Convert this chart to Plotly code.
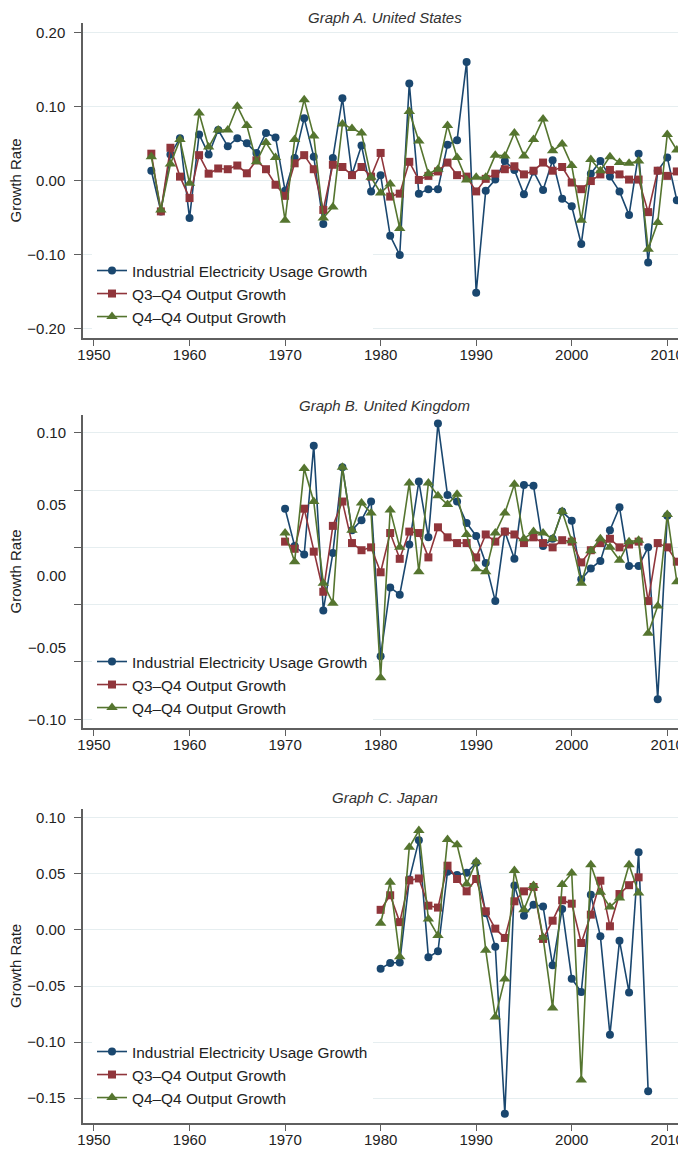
import plotly.graph_objects as go

# ---------------- data ----------------
us_years = list(range(1956, 2012))
us_elec = [0.013, -0.042, 0.035, 0.057, -0.051, 0.062, 0.035, 0.068, 0.046, 0.057,
           0.050, 0.037, 0.064, 0.058, -0.014, 0.030, 0.084, 0.032, -0.059, 0.030,
           0.111, 0.008, 0.047, -0.015, 0.007, -0.075, -0.101, 0.131, -0.018, -0.012,
           -0.012, 0.048, 0.054, 0.160, -0.152, -0.014, 0.001, 0.026, 0.014, -0.019,
           0.012, -0.013, 0.027, -0.025, -0.035, -0.086, 0.009, 0.026, 0.005, -0.015,
           -0.047, 0.036, -0.111, 0.013, 0.031, -0.027]
us_q3q4 = [0.036, -0.042, 0.044, 0.005, -0.024, 0.034, 0.009, 0.016, 0.015, 0.020,
           0.0095, 0.027, 0.015, -0.006, -0.021, 0.023, 0.034, 0.015, -0.040, 0.021,
           0.018, 0.007, 0.018, 0.005, 0.037, -0.022, -0.018, 0.025, 0.0005, 0.006,
           0.012, 0.024, 0.007, 0.005, -0.015, 0.002, 0.009, 0.015, 0.019, 0.008,
           0.013, 0.024, 0.013, 0.018, -0.003, -0.012, -0.001, 0.008, 0.014, 0.008,
           0.001, 0.001, -0.043, 0.013, 0.006, 0.012]
us_q4q4 = [0.032, -0.040, 0.022, 0.055, -0.004, 0.091, 0.045, 0.068, 0.068, 0.100,
           0.074, 0.025, 0.051, 0.031, -0.054, 0.055, 0.109, 0.060, -0.051, -0.036,
           0.076, 0.070, 0.064, 0.004, -0.017, -0.005, -0.065, 0.093, 0.053, 0.009,
           0.015, 0.074, 0.031, 0.0005, 0.004, 0.004, 0.034, 0.033, 0.064, 0.033,
           0.055, 0.083, 0.040, 0.049, 0.020, -0.054, 0.028, 0.013, 0.032, 0.024,
           0.023, 0.026, -0.093, -0.057, 0.062, 0.041]

uk_years = list(range(1970, 2012))
uk_elec = [0.047, 0.021, 0.015, 0.091, -0.024, 0.016, 0.076, 0.032, 0.039, 0.052,
           -0.056, -0.008, -0.013, 0.022, 0.066, 0.027, 0.1065, 0.0565, 0.052, 0.037,
           0.028, 0.009, -0.0175, 0.031, 0.012, 0.0635, 0.063, 0.021, 0.026, 0.045,
           0.0386, -0.0023, 0.0053, 0.0105, 0.032, 0.048, 0.007, 0.007, 0.020, -0.086,
           0.042, None]
uk_q3q4 = [0.024, 0.019, 0.047, 0.017, -0.011, 0.035, 0.052, 0.023, 0.018, 0.020,
           0.0026, 0.030, 0.012, 0.031, 0.030, 0.013, 0.034, 0.027, 0.023, 0.023,
           0.013, 0.029, 0.024, 0.031, 0.029, 0.023, 0.027, 0.023, 0.020, 0.025,
           0.024, 0.0095, 0.018, 0.023, 0.026, 0.020, 0.022, 0.024, -0.0175, 0.023,
           0.020, 0.010]
uk_q4q4 = [0.030, 0.010, 0.075, 0.052, -0.005, -0.019, 0.076, 0.032, 0.051, 0.044,
           -0.071, 0.046, 0.020, 0.065, 0.003, 0.065, 0.056, 0.050, 0.057, 0.029,
           0.005, 0.003, 0.030, 0.044, 0.064, 0.026, 0.031, 0.030, 0.026, 0.045,
           0.0247, -0.005, 0.0177, 0.026, 0.020, 0.011, 0.024, 0.025, -0.040, -0.021,
           0.043, -0.004]

jp_years = list(range(1980, 2009))
jp_elec = [-0.0345, -0.0295, -0.029, 0.045, 0.080, -0.0244, -0.019, 0.052, 0.049, 0.051,
           0.060, 0.015, -0.015, -0.164, 0.0396, 0.0128, 0.0226, 0.021, -0.0315, 0.0188,
           -0.0435, -0.0554, 0.0315, -0.0057, -0.0935, -0.0095, -0.0557, 0.0693, -0.144]
jp_q3q4 = [0.018, 0.031, 0.007, 0.0443, 0.046, 0.0217, 0.020, 0.0574, 0.0455, 0.0345,
           0.0455, 0.0167, 0.0012, -0.0071, 0.0256, 0.0345, 0.0384, -0.008, 0.0083, 0.0265,
           0.0235, -0.0116, 0.0137, 0.044, 0.0033, 0.0321, 0.040, 0.047, None]
jp_q4q4 = [0.006, 0.0426, -0.024, 0.0738, 0.0887, 0.0098, -0.005, 0.0807, 0.076, 0.041,
           0.061, -0.018, -0.0777, -0.0437, 0.053, 0.018, 0.0396, -0.0065, -0.0696, 0.0405,
           0.0509, -0.134, 0.0583, 0.0336, 0.0205, 0.0286, 0.0583, 0.033, None]

series_names = ["Industrial Electricity Usage Growth", "Q3\u2013Q4 Output Growth", "Q4\u2013Q4 Output Growth"]
panel_titles = ["Graph A. United States", "Graph B. United Kingdom", "Graph C. Japan"]
x_ticks = [1950, 1960, 1970, 1980, 1990, 2000, 2010]
a_ticks = [-0.20, -0.10, 0.00, 0.10, 0.20]
b_grid = [-0.10, -0.06, -0.02, 0.02, 0.06, 0.10]
b_labels = [-0.10, -0.05, 0.00, 0.05, 0.10]
c_ticks = [-0.15, -0.10, -0.05, 0.00, 0.05, 0.10]

# ---------------- styling ----------------
OFF = 8                      # page body margin
W, H = 686 - OFF, 1152 - OFF
FONT = "Liberation Sans, Arial, sans-serif"
COLORS = ["#1A476F", "#90353B", "#55752F"]
SYMBOLS = ["circle", "square", "triangle-up"]
MSIZE = [8, 8, 10]
AXC = "#5f5f5f"
GRIDC = "#e6eef0"
TXT = "#222222"

def fmt(v):
    s = f"{abs(v):.2f}"
    return ("\u2212" + s) if v < 0 else s

def px(x):
    return (x - OFF) / W

def py(y):
    return 1 - (y - OFF) / H

x_dom = [px(83), 1.0]
y_doms = [[py(338), py(23)], [py(728), py(415)], [py(1123), py(809)]]
y_ranges = [[-0.2131, 0.2126], [-0.1061, 0.1124], [-0.1723, 0.1080]]
x_range = [1948.85, 2011.96]

fig = go.Figure()
panels = [(us_years, [us_elec, us_q3q4, us_q4q4]),
          (uk_years, [uk_elec, uk_q3q4, uk_q4q4]),
          (jp_years, [jp_elec, jp_q3q4, jp_q4q4])]

for p, (yrs, vals) in enumerate(panels):
    xa = "x" if p == 0 else f"x{p+1}"
    ya = "y" if p == 0 else f"y{p+1}"
    lg = "legend" if p == 0 else f"legend{p+1}"
    for k in range(3):
        fig.add_trace(go.Scatter(
            x=yrs, y=vals[k], mode="lines+markers", name=series_names[k],
            xaxis=xa, yaxis=ya, legend=lg,
            line=dict(color=COLORS[k], width=1.6),
            marker=dict(color=COLORS[k], symbol=SYMBOLS[k], size=MSIZE[k], line=dict(width=0)),
            connectgaps=False, cliponaxis=False,
        ))

# empty trace to host label-only overlay axis for panel B
fig.add_trace(go.Scatter(x=[], y=[], xaxis="x2", yaxis="y4", showlegend=False, hoverinfo="skip"))

def xaxis_cfg(p):
    return dict(domain=x_dom, anchor=("y" if p == 0 else f"y{p+1}"), range=x_range,
                tickmode="array", tickvals=x_ticks, ticktext=[str(v) for v in x_ticks],
                ticks="outside", ticklen=6, tickwidth=1.3, tickcolor=AXC,
                showline=True, linecolor=AXC, linewidth=1.5, showgrid=False, zeroline=False,
                tickfont=dict(family=FONT, size=15, color=TXT), automargin=False,
                ticklabelstandoff=-4)

def yaxis_cfg(p, tv, tt):
    return dict(domain=y_doms[p], anchor=("x" if p == 0 else f"x{p+1}"), range=y_ranges[p],
                tickmode="array", tickvals=tv, ticktext=tt,
                ticks="outside", ticklen=7, tickwidth=1.3, tickcolor=AXC,
                showline=True, linecolor=AXC, linewidth=1.5,
                showgrid=True, gridcolor=GRIDC, gridwidth=1.2, zeroline=False,
                tickfont=dict(family=FONT, size=15, color=TXT), automargin=False,
                ticklabelstandoff=6)

layout = dict(width=W, height=H, margin=dict(l=0, r=0, t=0, b=0),
              paper_bgcolor="white", plot_bgcolor="white", showlegend=True)
layout["xaxis"] = xaxis_cfg(0)
layout["xaxis2"] = xaxis_cfg(1)
layout["xaxis3"] = xaxis_cfg(2)
layout["yaxis"] = yaxis_cfg(0, a_ticks, [fmt(v) for v in a_ticks])
layout["yaxis2"] = yaxis_cfg(1, b_grid, ["" for v in b_grid])
layout["yaxis3"] = yaxis_cfg(2, c_ticks, [fmt(v) for v in c_ticks])
yb = yaxis_cfg(1, b_labels, [fmt(v) for v in b_labels])
yb.update(overlaying="y2", showgrid=False, showline=False, tickcolor="rgba(0,0,0,0)")
yb.pop("domain")
layout["yaxis4"] = yb

leg_common = dict(bgcolor="white", borderwidth=0, font=dict(family=FONT, size=15.4, color=TXT),
                  xanchor="left", yanchor="top", tracegroupgap=0, itemwidth=30)
layout["legend"] = dict(x=px(92), y=py(254), **leg_common)
layout["legend2"] = dict(x=px(92), y=py(645), **leg_common)
layout["legend3"] = dict(x=px(92), y=py(1035), **leg_common)

fig.update_layout(**layout)

title_y = [16, 405, 797]
plot_mid = [(23 + 338) / 2, (415 + 728) / 2, (809 + 1123) / 2]
for p in range(3):
    if p == 0:
        ty, yanc = 1.0, "top"
    else:
        ty, yanc = py(title_y[p]), "middle"
    fig.add_annotation(text="<i>" + panel_titles[p] + "</i>", xref="paper", yref="paper",
                       x=px((83 + 686) / 2), y=ty, xanchor="center", yanchor=yanc,
                       showarrow=False, borderpad=0,
                       font=dict(family=FONT, size=15, color="#333333"))
    fig.add_annotation(text="Growth Rate", xref="paper", yref="paper",
                       x=px(15), y=py(plot_mid[p]), xanchor="center", yanchor="middle",
                       showarrow=False, textangle=-90,
                       font=dict(family=FONT, size=15, color=TXT))

fig.write_html("out.html")
